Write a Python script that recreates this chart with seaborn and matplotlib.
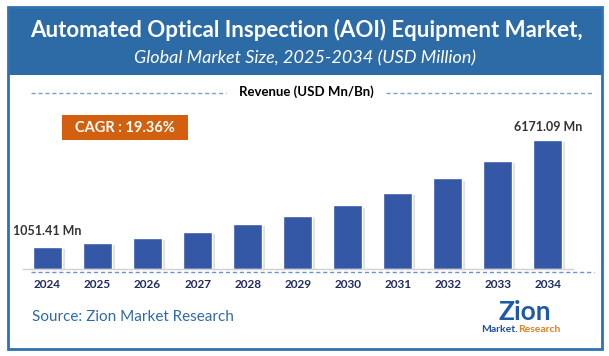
import numpy as np
import pandas as pd
import seaborn as sns
import matplotlib
matplotlib.use("Agg")
from matplotlib import pyplot as plt
from matplotlib import patheffects as pe
from matplotlib.patches import Rectangle

# data
years = ["2024", "2025", "2026", "2027", "2028", "2029", "2030", "2031", "2032", "2033", "2034"]
revenue = [1051.41, 1255, 1498, 1788, 2134, 2547, 3040, 3629, 4331, 5170, 6171.09]
first_label = "1051.41 Mn"
last_label = "6171.09 Mn"
cagr_text = "CAGR : 19.36%"

W, H = 609, 356


def px(x, y):
    # pixel (from top-left) -> figure fraction
    return x / W, 1 - y / H


sns.set_theme(style="white")
plt.rcParams['font.family'] = ['Lato', 'DejaVu Sans']

fig = plt.figure(figsize=(W / 100, H / 100), dpi=100)
fig.patch.set_facecolor("white")

# header band and outer frame
fig.patches.append(Rectangle(px(8, 75), 594 / W, 68 / H, transform=fig.transFigure,
                             facecolor="#2D6BA6", edgecolor="none", zorder=0))
fig.patches.append(Rectangle(px(8, 349), 594 / W, 342 / H, transform=fig.transFigure,
                             facecolor="none", edgecolor="#2F72B0", linewidth=2, zorder=5))

fig.text(*px(306, 30), "Automated Optical Inspection (AOI) Equipment Market,", color="white",
         fontsize=16, fontweight="bold", ha="center", va="center")
fig.text(*px(305, 58), "Global Market Size, 2025-2034 (USD Million)", color="white",
         fontsize=13, fontstyle="italic", ha="center", va="center")

# revenue line
fig.text(*px(306, 92), "Revenue (USD Mn/Bn)", color="black", fontsize=9.5,
         fontweight="bold", ha="center", va="center")
fig.add_artist(plt.Line2D([31 / W, 226 / W], [1 - 93 / H] * 2, color="#7F9FD2",
                          linestyle=(0, (3, 2)), linewidth=1))
fig.add_artist(plt.Line2D([386 / W, 594 / W], [1 - 93 / H] * 2, color="#7F9FD2",
                          linestyle=(0, (3, 2)), linewidth=1))

# bar chart
df = pd.DataFrame({"year": years, "revenue": revenue})
ax_left, ax_right = 22.5, 573
ax_bottom, ax_top = 269, 119
ax = fig.add_axes([ax_left / W, 1 - ax_bottom / H, (ax_right - ax_left) / W, (ax_bottom - ax_top) / H])
sns.barplot(data=df, x="year", y="revenue", color="#3457A6", saturation=1, width=0.58, ax=ax)
for bar in ax.patches:
    bar.set_path_effects([pe.SimplePatchShadow(offset=(2, -1.5), shadow_rgbFace="#999999", alpha=0.3),
                          pe.Normal()])
ax.set_xlim(-0.5, 10.5)
ax.set_ylim(0, 150 * 6171.09 / 129)
ax.set_facecolor("none")
for s in ["top", "right", "left"]:
    ax.spines[s].set_visible(False)
ax.spines["bottom"].set_color("#D0D0D0")
ax.spines["bottom"].set_linewidth(1)
ax.set_yticks([])
ax.set_xlabel("")
ax.set_ylabel("")
ax.tick_params(axis="x", length=0, pad=7)
for t in ax.get_xticklabels():
    t.set_fontsize(8.5)
    t.set_fontweight("bold")
    t.set_color("#1F2B5E")

ax.text(0, revenue[0] + 500, first_label, ha="center", va="bottom", fontsize=9,
        fontweight="bold", color="#333333")
ax.text(10, revenue[-1] + 350, last_label, ha="center", va="bottom", fontsize=9,
        fontweight="bold", color="#333333")

# dashed line under the baseline
fig.add_artist(plt.Line2D([31 / W, 594 / W], [1 - 272 / H] * 2, color="#6F93D0",
                          linestyle=(0, (3, 2)), linewidth=1))

# CAGR box
fig.patches.append(Rectangle(px(62, 140), 126 / W, 25 / H, transform=fig.transFigure,
                             facecolor="#D2600F", edgecolor="none"))
fig.text(*px(125, 128), cagr_text, color="white", fontsize=10.5, fontweight="bold",
         ha="center", va="center")

# source
fig.text(*px(32, 317), "Source: Zion Market Research", color="#2E6AA6", fontsize=11,
         ha="left", va="center")

# logo
fig.text(*px(525, 312), "Zion", color="#1F5AA6", fontsize=19, fontweight="bold",
         ha="center", va="center")
fig.text(*px(518, 330), "Market.", color="#1F4E99", fontsize=7.5, fontweight="bold",
         ha="right", va="center")
fig.text(*px(518, 330), "Research", color="#E0801F", fontsize=7.5, fontweight="bold",
         ha="left", va="center")

fig.savefig("out.png", dpi=100)
